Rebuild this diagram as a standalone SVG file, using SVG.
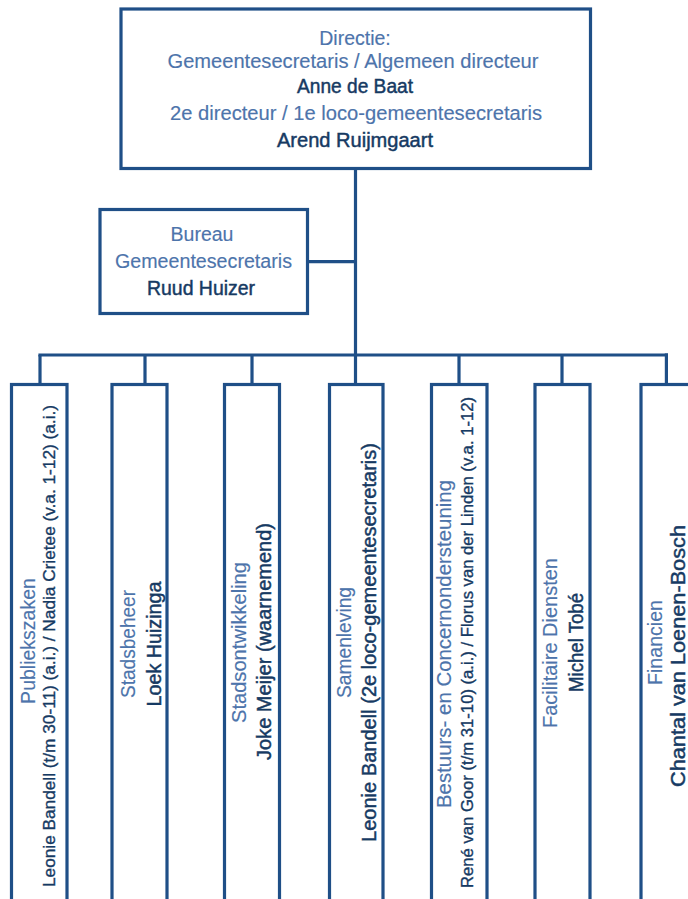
<svg xmlns="http://www.w3.org/2000/svg" width="688" height="899" viewBox="0 0 688 899">
<style>
.box{fill:#ffffff;stroke:#1f4f87;stroke-width:3.2}
.ln{stroke:#1f4f87;stroke-width:3.2;fill:none}
.t{font-family:"Liberation Sans",Arial,sans-serif;font-size:19.5px;fill:#4d74ab;text-anchor:middle;stroke:#4d74ab;stroke-width:0.15}
.n{font-family:"Liberation Sans",Arial,sans-serif;font-size:19.5px;fill:#163a63;text-anchor:middle;stroke:#163a63;stroke-width:0.45}
</style>
<rect width="688" height="899" fill="#ffffff"/>
<g id="connectors">
<line class="ln" x1="355.5" y1="168" x2="355.5" y2="356"/>
<line class="ln" x1="307" y1="261.7" x2="355.5" y2="261.7"/>
<line class="ln" x1="38.4" y1="355" x2="668" y2="355"/>
<line class="ln" x1="40" y1="355" x2="40" y2="385"/>
<line class="ln" x1="145" y1="355" x2="145" y2="385"/>
<line class="ln" x1="252" y1="355" x2="252" y2="385"/>
<line class="ln" x1="355.5" y1="355" x2="355.5" y2="385"/>
<line class="ln" x1="459" y1="355" x2="459" y2="385"/>
<line class="ln" x1="562" y1="355" x2="562" y2="385"/>
<line class="ln" x1="666.4" y1="353.4" x2="666.4" y2="385"/>
</g>
<g id="directie">
<rect class="box" x="121" y="9" width="469.5" height="159.5"/>
<text class="t" x="355" y="45">Directie:</text>
<text class="t" x="353" y="68" textLength="371" lengthAdjust="spacingAndGlyphs">Gemeentesecretaris / Algemeen directeur</text>
<text class="n" x="355" y="93" textLength="116" lengthAdjust="spacingAndGlyphs">Anne de Baat</text>
<text class="t" x="356" y="120" textLength="372" lengthAdjust="spacingAndGlyphs">2e directeur / 1e loco-gemeentesecretaris</text>
<text class="n" x="355" y="147" textLength="156" lengthAdjust="spacingAndGlyphs">Arend Ruijmgaart</text>
</g>
<g id="bureau">
<rect class="box" x="100" y="209.5" width="207.5" height="104"/>
<text class="t" x="202" y="241">Bureau</text>
<text class="t" x="203.5" y="268" textLength="177" lengthAdjust="spacingAndGlyphs">Gemeentesecretaris</text>
<text class="n" x="201" y="295" textLength="108" lengthAdjust="spacingAndGlyphs">Ruud Huizer</text>
</g>
<g id="publiekszaken">
<rect class="box" x="11.5" y="384.5" width="55.5" height="530"/>
<text class="t" transform="translate(35,641) rotate(-90)">Publiekszaken</text>
<text class="n" style="font-size:17px;stroke-width:0.35" transform="translate(54.5,646) rotate(-90)" textLength="482" lengthAdjust="spacingAndGlyphs">Leonie Bandell (t/m 30-11) (a.i.) / Nadia Crietee (v.a. 1-12) (a.i.)</text>
</g>
<g id="stadsbeheer">
<rect class="box" x="112" y="384.5" width="55" height="530"/>
<text class="t" transform="translate(135,644) rotate(-90)" textLength="108" lengthAdjust="spacingAndGlyphs">Stadsbeheer</text>
<text class="n" transform="translate(161,644) rotate(-90)" textLength="125" lengthAdjust="spacingAndGlyphs">Loek Huizinga</text>
</g>
<g id="stadsontwikkeling">
<rect class="box" x="224.5" y="384.5" width="55" height="530"/>
<text class="t" transform="translate(245.5,642.5) rotate(-90)" textLength="161" lengthAdjust="spacingAndGlyphs">Stadsontwikkeling</text>
<text class="n" transform="translate(271,641.5) rotate(-90)" textLength="237" lengthAdjust="spacingAndGlyphs">Joke Meijer (waarnemend)</text>
</g>
<g id="samenleving">
<rect class="box" x="329.5" y="384.5" width="53.5" height="530"/>
<text class="t" transform="translate(350.5,642.5) rotate(-90)" textLength="111" lengthAdjust="spacingAndGlyphs">Samenleving</text>
<text class="n" transform="translate(376,642.5) rotate(-90)" textLength="399" lengthAdjust="spacingAndGlyphs">Leonie Bandell (2e loco-gemeentesecretaris)</text>
</g>
<g id="bestuurs">
<rect class="box" x="431.5" y="384.5" width="55.5" height="530"/>
<text class="t" transform="translate(451,644) rotate(-90)" textLength="328" lengthAdjust="spacingAndGlyphs">Bestuurs- en Concernondersteuning</text>
<text class="n" style="font-size:17px;stroke-width:0.35" transform="translate(473,642.5) rotate(-90)" textLength="491" lengthAdjust="spacingAndGlyphs">René van Goor (t/m 31-10) (a.i.) / Florus van der Linden (v.a. 1-12)</text>
</g>
<g id="facilitaire">
<rect class="box" x="535" y="384.5" width="55" height="530"/>
<text class="t" transform="translate(557,643) rotate(-90)" textLength="170" lengthAdjust="spacingAndGlyphs">Facilitaire Diensten</text>
<text class="n" transform="translate(583,642.5) rotate(-90)" textLength="99" lengthAdjust="spacingAndGlyphs">Michel Tobé</text>
</g>
<g id="financien">
<rect class="box" x="641" y="384.5" width="60" height="530"/>
<text class="t" transform="translate(661.5,642.5) rotate(-90)" textLength="85" lengthAdjust="spacingAndGlyphs">Financien</text>
<text class="n" transform="translate(685,656) rotate(-90)" textLength="262" lengthAdjust="spacingAndGlyphs">Chantal van Loenen-Bosch</text>
</g>
</svg>
